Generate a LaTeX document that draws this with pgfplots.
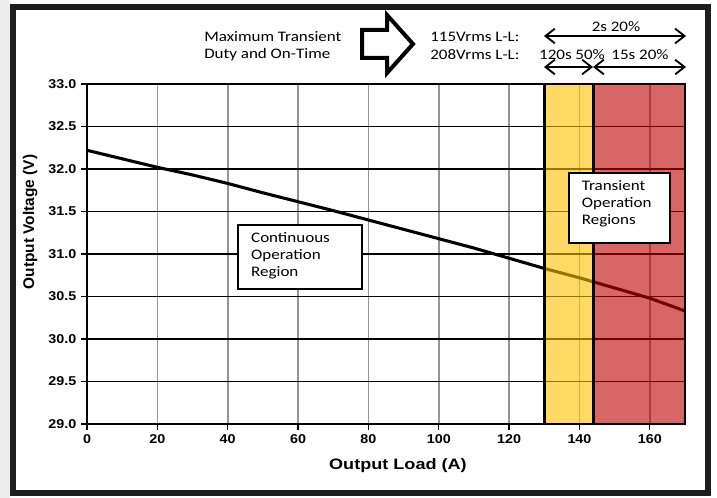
\documentclass[border=0pt]{standalone}
\usepackage{pgfplots}
\pgfplotsset{compat=1.18}
\usepackage{fontspec}
\setmainfont{Liberation Sans}
\newfontfamily\tickfont[FakeStretch=1.12]{Liberation Sans}
\newfontfamily\labfont[FakeStretch=1.2]{Liberation Sans}
\newfontfamily\calfont[FakeStretch=1.17]{Carlito}
\usetikzlibrary{arrows.meta}
\definecolor{gold}{RGB}{255,192,0}
\definecolor{dred}{RGB}{192,0,0}
\definecolor{framec}{RGB}{30,30,30}
\begin{document}
\begin{tikzpicture}[x=0.75pt,y=-0.75pt]
\path[use as bounding box] (0,0) rectangle (717,498);
\fill[white] (0,0) rectangle (717,498);
\fill[black!7] (0,0) rectangle (10,498);
\begin{axis}[
  at={(65.25pt,-318pt)}, anchor=south west,
  scale only axis, width=448.5pt, height=255pt,
  xmin=0, xmax=170, ymin=29, ymax=33,
  xtick={0,20,...,160}, ytick={29,29.5,...,33},
  xtick pos=left, ytick pos=left,
  tick align=outside, major tick length=4.5pt,
  tick style={black, line width=1pt},
  grid=major,
  x grid style={black!42, line width=1.2pt},
  y grid style={black, line width=0.9pt},
  axis line style={line width=2.2pt},
  /pgf/number format/assume math mode=true,
  yticklabel style={/pgf/number format/.cd, fixed, fixed zerofill, precision=1},
  ticklabel style={font=\tickfont\bfseries\fontsize{9.6}{10}\selectfont},
  xlabel={Output Load (A)},
  xlabel style={font=\labfont\bfseries\fontsize{11.3}{13}\selectfont, at={(axis description cs:0.52,-0.1235)}, anchor=center},
  ylabel={Output Voltage (V)},
  ylabel style={font=\bfseries\fontsize{11.6}{13}\selectfont, at={(axis description cs:-0.095,0.594)}, anchor=center},
  clip=false,
]
\addplot[black, line width=2.3pt] coordinates {
(0,32.22) (10,32.12) (20,32.02) (30,31.93) (40,31.83) (50,31.72) (60,31.615) (70,31.51)
(80,31.40) (90,31.29) (100,31.18) (110,31.07) (120,30.95) (130,30.83) (140,30.72)
(150,30.60) (160,30.48) (170,30.33)};
\fill[gold, fill opacity=0.6] (axis cs:130,29) rectangle (axis cs:144,33);
\fill[dred, fill opacity=0.6] (axis cs:144,29) rectangle (axis cs:170,33);
\draw[line width=2.2pt] (axis cs:130,29) rectangle (axis cs:144,33);
\draw[line width=2.2pt] (axis cs:144,29) rectangle (axis cs:170,33);
\draw[fill=white, line width=1.1pt] (axis cs:42.9,31.34) rectangle (axis cs:78.2,30.59);
\node[anchor=west, align=left, inner sep=0pt, font=\calfont\fontsize{10.9}{12.75}\selectfont] at (axis cs:46.6,30.976) {Continuous\\Operation\\Region};
\draw[fill=white, line width=1.1pt] (axis cs:137.0,31.953) rectangle (axis cs:165.7,31.129);
\node[anchor=west, align=left, inner sep=0pt, font=\calfont\fontsize{10.9}{12.75}\selectfont] at (axis cs:140.6,31.588) {Transient\\Operation\\Regions};
\end{axis}
% top annotations
\begin{scope}[font=\calfont\fontsize{10.9}{13}\selectfont]
\node[anchor=west, inner sep=0pt] at (204,37) {Maximum Transient};
\node[anchor=west, inner sep=0pt] at (204,55) {Duty and On-Time};
\node[anchor=west, inner sep=0pt] at (430,37) {115Vrms L-L:};
\node[anchor=west, inner sep=0pt] at (430,55) {208Vrms L-L:};
\node[inner sep=0pt] at (616,27) {2s 20\%};
\node[inner sep=0pt] at (572,55) {120s 50\%};
\node[inner sep=0pt] at (640,55) {15s 20\%};
\end{scope}
\draw[line width=3pt, line join=miter] (362,30) -- (387,30) -- (387,15) -- (413,44) -- (387,73) -- (387,58) -- (362,58) -- cycle;
\draw[line width=1.4pt, {Straight Barb[length=7pt,width=11pt,line width=1.4pt]}-{Straight Barb[length=7pt,width=11pt,line width=1.4pt]}] (544,36) -- (686,36);
\draw[line width=1.4pt, {Straight Barb[length=7pt,width=11pt,line width=1.4pt]}-{Straight Barb[length=7pt,width=11pt,line width=1.4pt]}] (544,67) -- (593,67);
\draw[line width=1.4pt, {Straight Barb[length=7pt,width=11pt,line width=1.4pt]}-{Straight Barb[length=7pt,width=11pt,line width=1.4pt]}] (593,67) -- (686,67);
% outer frame
\draw[framec, line width=4.5pt] (12.5,7) rectangle (707.5,493);
\end{tikzpicture}
\end{document}
